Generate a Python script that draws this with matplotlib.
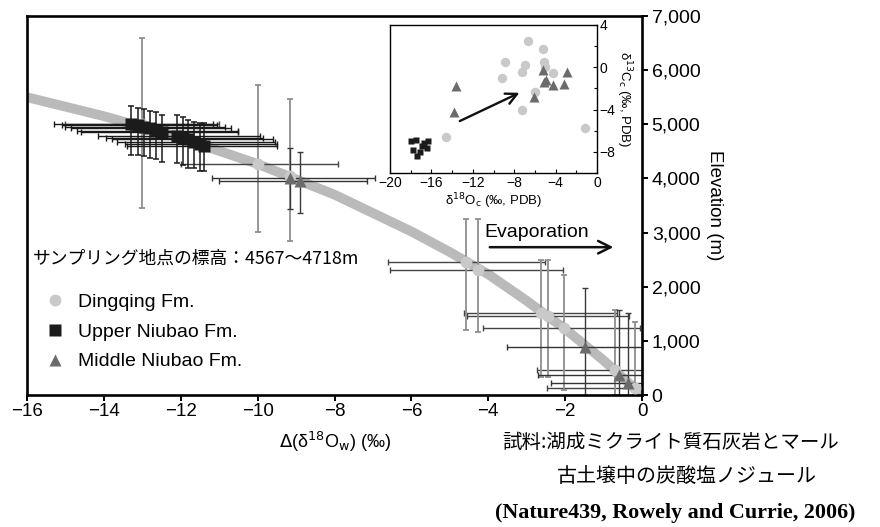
import matplotlib
matplotlib.use('Agg')
import matplotlib.pyplot as plt
from matplotlib.lines import Line2D
from matplotlib.ticker import FuncFormatter, MultipleLocator

plt.rcParams['font.family'] = ['Liberation Sans', 'DejaVu Sans']
JP = ['Noto Sans CJK JP', 'DejaVu Sans']

# ---------------- data: main panel ----------------
curve_x = [-16, -14, -12, -10, -8, -6, -5, -4, -3, -2, -1, 0]
curve_y = [5500, 5150, 4750, 4267, 3700, 3020, 2640, 2230, 1740, 1220, 640, 0]

# Dingqing Fm.
dq_x = [-13.0, -10.0, -9.15, -4.57, -4.26, -2.64, -2.45, -2.04, -0.69, -0.17]
dq_y = [5000, 4267, 4050, 2457, 2309, 1515, 1450, 1237, 462, 130]
dq_xm = [2.0, 2.0, 0.0, 2.05, 2.3, 2.0, 2.1, 2.1, 2.03, 2.3]
dq_xp = [2.0, 2.1, 0.0, 2.05, 2.2, 2.0, 2.1, 2.0, 2.03, 2.3]
dq_ym = [1550, 1260, 1200, 1260, 1150, 1185, 1120, 1145, 462, 130]
dq_yp = [1600, 1460, 1420, 800, 940, 975, 1040, 980, 1110, 1220]

# Upper Niubao Fm.
un_x = [-13.3, -13.1, -12.95, -12.8, -12.65, -12.5, -12.1, -11.95, -11.8, -11.65, -11.5, -11.4]
un_y = [5000, 4990, 4950, 4930, 4880, 4850, 4790, 4740, 4720, 4670, 4640, 4600]
un_xm = [2.0, 2.0, 2.05, 2.05, 2.05, 2.1, 2.05, 2.0, 2.0, 2.0, 1.95, 2.0]
un_xp = [2.15, 2.05, 2.1, 2.1, 2.15, 2.0, 2.15, 2.1, 2.2, 2.1, 2.0, 1.9]
un_ym = [560, 560, 540, 560, 530, 540, 500, 490, 520, 480, 500, 460]
un_yp = [330, 320, 330, 320, 340, 330, 380, 400, 360, 380, 380, 420]

# Middle Niubao Fm.
mn_x = [-9.15, -8.9, -1.47, -0.6, -0.37]
mn_y = [4000, 3960, 887, 370, 222]
mn_xm = [2.05, 2.1, 2.03, 2.1, 2.0]
mn_xp = [2.2, 1.75, 2.03, 2.1, 2.0]
mn_ym = [565, 600, 887, 370, 222]
mn_yp = [560, 530, 1090, 1200, 1300]

x_ticks = [-16, -14, -12, -10, -8, -6, -4, -2, 0]
y_ticks = [0, 1000, 2000, 3000, 4000, 5000, 6000, 7000]

# ---------------- data: inset ----------------
in_dq_x = [-6.67, -5.2, -8.9, -6.96, -5.1, -5.0, -7.25, -9.2, -4.25, -6.0, -7.25, -1.16, -14.6]
in_dq_y = [2.49, 1.73, 0.5, 0.22, 0.5, 0.0, -0.45, -1.0, -0.54, -2.34, -4.04, -5.74, -6.6]
in_un_x = [-18.0, -17.5, -16.9, -16.3, -17.8, -17.1, -16.4, -17.4, -16.7]
in_un_y = [-7.0, -6.9, -7.4, -7.0, -7.8, -8.0, -7.6, -8.4, -7.2]
in_mn_x = [-13.6, -13.8, -5.2, -2.9, -4.9, -5.1, -4.25, -3.2, -6.1]
in_mn_y = [-1.77, -4.2, -0.26, -0.45, -1.2, -1.4, -1.68, -1.58, -2.8]
in_arrow_start = (-13.5, -5.2)
in_arrow_end = (-7.25, -2.3)

labels = ['Dingqing Fm.', 'Upper Niubao Fm.', 'Middle Niubao Fm.']

# ---------------- styles ----------------
C_DQ = '#c9c9c9'
C_UN = '#1b1b1b'
C_MN = '#6b6b6b'
C_CURVE = '#bababa'


def minus_fmt(v, p):
    return ('\u2212' + str(int(-v))) if v < 0 else str(int(v))


fig = plt.figure(figsize=(8.8, 5.27), dpi=100)
ax = fig.add_axes([27 / 880, 1 - 395 / 527, 615 / 880, 379 / 527])

ax.plot(curve_x, curve_y, color=C_CURVE, lw=7, solid_capstyle='butt', zorder=1)


def bars(x, y, xm, xp, ym, yp, xc, yc, ylw):
    ax.errorbar(x, y, xerr=[xm, xp], fmt='none', ecolor=xc, elinewidth=1.0,
                capsize=2.3, capthick=1.0, zorder=2)
    ax.errorbar(x, y, yerr=[ym, yp], fmt='none', ecolor=yc, elinewidth=ylw,
                capsize=2.3, capthick=ylw, zorder=2)


bars(dq_x, dq_y, dq_xm, dq_xp, dq_ym, dq_yp, '#444444', '#8f8f8f', 1.3)
bars(mn_x, mn_y, mn_xm, mn_xp, mn_ym, mn_yp, '#333333', '#3a3a3a', 1.0)
bars(un_x, un_y, un_xm, un_xp, un_ym, un_yp, '#1a1a1a', '#1a1a1a', 1.1)

ax.plot(dq_x, dq_y, 'o', ms=8.5, color=C_DQ, mec='none', zorder=3)
ax.plot(un_x, un_y, 's', ms=8.3, color=C_UN, mec='none', zorder=4)
ax.plot(mn_x, mn_y, '^', ms=9, color=C_MN, mec='none', zorder=5)

ax.set_xlim(-16, 0)
ax.set_ylim(0, 7000)
ax.set_xticks(x_ticks)
ax.xaxis.set_major_formatter(FuncFormatter(minus_fmt))
ax.set_yticks(y_ticks)
ax.yaxis.set_major_formatter(FuncFormatter(lambda v, p: f'{int(v):,}'))
ax.yaxis.tick_right()
ax.yaxis.set_label_position('right')
ax.tick_params(axis='x', direction='out', length=4, width=1.4, labelsize=13.5, pad=2)
ax.tick_params(axis='y', direction='out', length=4, width=1.4, labelsize=14, pad=3)
for s in ax.spines.values():
    s.set_linewidth(1.9)
ax.set_ylabel('Elevation (m)', rotation=-90, fontsize=13.5, labelpad=16)
ax.set_xlabel(r'$\Delta$(δ$^{18}$O$_{\rm w}$) (‰)', fontsize=13, labelpad=7)

handles = [Line2D([], [], ls='none', marker='o', ms=8.5, color=C_DQ, mec='none'),
           Line2D([], [], ls='none', marker='s', ms=8, color=C_UN, mec='none'),
           Line2D([], [], ls='none', marker='^', ms=9, color=C_MN, mec='none')]
ax.legend(handles, labels, loc='upper left', bbox_to_anchor=(0.029, 0.268), frameon=False,
          fontsize=14, handlelength=1.0, handletextpad=0.72, labelspacing=0.62,
          borderaxespad=0, borderpad=0)

ax.text(0.01, 0.361, 'サンプリング地点の標高：4567〜4718m', transform=ax.transAxes,
        fontsize=12.8, family=JP, va='center', ha='left')

ax.text(0.744, 0.43, 'Evaporation', transform=ax.transAxes, fontsize=14, va='center', ha='left')
ax.annotate('', xy=(0.958, 0.39), xytext=(0.748, 0.39), xycoords='axes fraction',
            arrowprops=dict(arrowstyle='->,head_length=0.9,head_width=0.45', lw=1.8, color='#111111'))

# ---------------- inset ----------------
ins = fig.add_axes([390 / 880, 1 - 173 / 527, 207 / 880, 148 / 527])
ins.plot(in_dq_x, in_dq_y, 'o', ms=6.8, color=C_DQ, mec='none', zorder=3)
ins.plot(in_un_x, in_un_y, 's', ms=4.8, color=C_UN, mec='none', zorder=3)
ins.plot(in_mn_x, in_mn_y, '^', ms=6.8, color=C_MN, mec='none', zorder=4)
ins.annotate('', xy=in_arrow_end, xytext=in_arrow_start,
             arrowprops=dict(arrowstyle='->,head_length=0.8,head_width=0.4', lw=1.7, color='#111111'))
ins.set_xlim(-20, 0)
ins.set_ylim(-10, 4)
ins.xaxis.set_major_locator(MultipleLocator(4))
ins.xaxis.set_minor_locator(MultipleLocator(2))
ins.yaxis.set_major_locator(MultipleLocator(4))
ins.yaxis.set_minor_locator(MultipleLocator(2))
ins.xaxis.set_major_formatter(FuncFormatter(minus_fmt))
ins.yaxis.set_major_formatter(FuncFormatter(minus_fmt))
ins.yaxis.tick_right()
ins.yaxis.set_label_position('right')
ins.tick_params(which='both', direction='in', width=0.8, labelsize=10, pad=2)
ins.tick_params(which='major', length=3)
ins.tick_params(which='minor', length=2)
for s in ins.spines.values():
    s.set_linewidth(1.0)
ins.set_xlabel('δ$^{18}$O$_{\\rm c}$ (‰, PDB)', fontsize=9.5, labelpad=1)
ins.set_ylabel('δ$^{13}$C$_{\\rm c}$ (‰, PDB)', fontsize=9.5, rotation=-90, labelpad=13)

# ---------------- captions ----------------
fig.text(502 / 880, 1 - 442 / 527, '試料:湖成ミクライト質石灰岩とマール', fontsize=14, family=JP,
         va='center', ha='left')
fig.text(557 / 880, 1 - 477 / 527, '古土壌中の炭酸塩ノジュール', fontsize=14.4, family=JP,
         va='center', ha='left')
fig.text(495 / 880, 1 - 513 / 527, '(Nature439, Rowely and Currie, 2006)', fontsize=15.8,
         family=['Liberation Serif', 'DejaVu Serif'], weight='bold', va='center', ha='left')

fig.savefig('out.png', dpi=100)
